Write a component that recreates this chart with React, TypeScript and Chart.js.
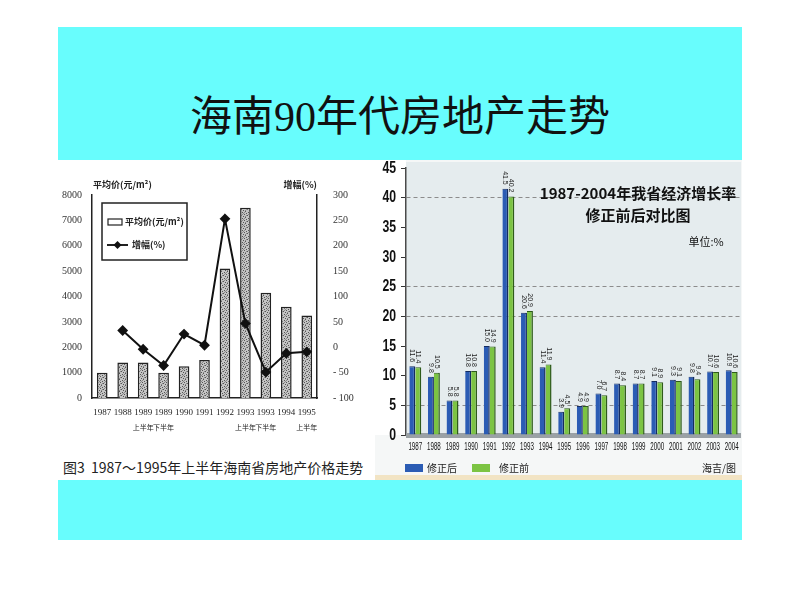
import React, { useEffect, useRef } from "react";
import { Chart, registerables } from "chart.js";
Chart.register(...registerables);

// ---------- Left chart data ----------
const priceYears = ["1987", "1988", "1989", "1989", "1990", "1991", "1992", "1993", "1993", "1994", "1995"];
const halfYearNotes = ["", "", "上半年", "下半年", "", "", "", "上半年", "下半年", "", "上半年"];
const avgPrice = [1000, 1400, 1400, 1000, 1250, 1500, 5100, 7500, 4150, 3600, 3250];
const growthPct = [null, 33, -4, -36, 26, 4, 253, 47, -49, -12, -9];
const priceTitle = "平均价(元/m²)";
const growthTitle = "增幅(%)";

// ---------- Right chart data ----------
const growthYears = ["1987", "1988", "1989", "1990", "1991", "1992", "1993", "1994", "1995", "1996", "1997", "1998", "1999", "2000", "2001", "2002", "2003", "2004"];
const revisedGrowth = [11.6, 9.8, 5.8, 10.8, 15.0, 41.5, 20.6, 11.4, 3.9, 4.9, 7.0, 8.7, 8.7, 9.1, 9.3, 9.8, 10.7, 10.9];
const originalGrowth = [11.4, 10.5, 5.8, 10.8, 14.9, 40.2, 20.9, 11.9, 4.5, 4.9, 6.7, 8.4, 8.7, 8.9, 9.1, 9.4, 10.6, 10.6];
const gridShown = [5, 20, 25, 40];

const CJK = '"Noto Sans CJK SC", "Noto Sans", sans-serif';
const SERIF = '"Liberation Serif", "Noto Sans CJK SC", serif';
const SANS = '"Liberation Sans", "DejaVu Sans", sans-serif';

function makePattern(): CanvasPattern | string {
  const pc = document.createElement("canvas");
  pc.width = 6;
  pc.height = 6;
  const c = pc.getContext("2d");
  if (!c) return "#bbb";
  c.fillStyle = "#c4c4c4";
  c.fillRect(0, 0, 6, 6);
  c.fillStyle = "#555555";
  const dots = [[0, 0], [3, 1], [1, 3], [4, 4], [2, 5], [5, 2]];
  dots.forEach(([x, y]) => c.fillRect(x, y, 1, 1));
  c.fillStyle = "#8a8a8a";
  [[2, 1], [5, 5], [0, 4], [4, 0], [1, 2]].forEach(([x, y]) => c.fillRect(x, y, 1, 1));
  return c.createPattern(pc, "repeat") || "#bbb";
}

function PriceChart() {
  const ref = useRef<HTMLCanvasElement>(null);
  useEffect(() => {
    if (!ref.current) return;
    const decor = {
      id: "priceDecor",
      afterDraw(chart: any) {
        const { ctx } = chart;
        const xs = chart.scales.x;
        ctx.save();
        ctx.fillStyle = "#222";
        ctx.textBaseline = "middle";
        ctx.font = `bold 9px ${CJK}`;
        ctx.textAlign = "left";
        ctx.fillText(priceTitle, 35, 25);
        ctx.textAlign = "right";
        ctx.fillText(growthTitle, 259, 25);
        // legend box
        ctx.strokeStyle = "#222";
        ctx.lineWidth = 1.5;
        ctx.strokeRect(44, 43, 85, 57);
        ctx.lineWidth = 1.2;
        ctx.strokeRect(50, 59, 14, 6);
        ctx.textAlign = "left";
        ctx.fillText(chart.data.datasets[1].label, 67, 62);
        ctx.lineWidth = 2;
        ctx.beginPath();
        ctx.moveTo(49, 85);
        ctx.lineTo(70, 85);
        ctx.stroke();
        ctx.fillStyle = "#111";
        ctx.beginPath();
        ctx.moveTo(59.5, 81);
        ctx.lineTo(63.5, 85);
        ctx.lineTo(59.5, 89);
        ctx.lineTo(55.5, 85);
        ctx.closePath();
        ctx.fill();
        ctx.fillStyle = "#222";
        ctx.fillText(chart.data.datasets[0].label, 74, 85);
        // half-year notes
        ctx.font = `7px ${CJK}`;
        ctx.textAlign = "center";
        halfYearNotes.forEach((n, i) => {
          if (n) ctx.fillText(n, xs.getPixelForValue(i), 267);
        });
        ctx.restore();
      },
    };
    const chart = new Chart(ref.current, {
      type: "bar",
      data: {
        labels: priceYears,
        datasets: [
          {
            type: "line",
            label: growthTitle,
            data: growthPct,
            yAxisID: "y1",
            borderColor: "#111",
            borderWidth: 2,
            pointStyle: "rectRot",
            pointRadius: 4,
            pointBackgroundColor: "#111",
            pointBorderColor: "#111",
            tension: 0,
            order: 0,
          } as any,
          {
            type: "bar",
            label: priceTitle,
            data: avgPrice,
            yAxisID: "y",
            backgroundColor: makePattern() as any,
            borderColor: "#222",
            borderWidth: 1.5,
            barPercentage: 0.52,
            categoryPercentage: 1,
            order: 1,
          } as any,
        ],
      },
      options: {
        responsive: false,
        animation: false,
        layout: { padding: { top: 35, left: 0, right: 0, bottom: 0 } },
        plugins: { legend: { display: false }, tooltip: { enabled: false } },
        scales: {
          x: {
            grid: { display: false },
            border: { display: true, color: "#222", width: 1.5 },
            ticks: { font: { family: SERIF, size: 9 }, color: "#222", padding: 1, maxRotation: 0, autoSkip: false },
            afterFit: (s: any) => { s.height = 52; },
          },
          y: {
            position: "left",
            min: 0,
            max: 8000,
            grid: { display: false },
            border: { display: true, color: "#222", width: 1.5 },
            ticks: { stepSize: 1000, font: { family: SERIF, size: 10 }, color: "#333", padding: 2, callback: (v: any) => String(v) },
            afterFit: (s: any) => { s.width = 34; },
          },
          y1: {
            position: "right",
            min: -100,
            max: 300,
            grid: { display: false },
            border: { display: true, color: "#222", width: 1.5 },
            ticks: {
              stepSize: 50,
              font: { family: SERIF, size: 10 },
              color: "#333",
              padding: 8,
              callback: (v: any) => (Number(v) < 0 ? "- " + Math.abs(Number(v)) : String(v)),
            },
            afterFit: (s: any) => { s.width = 55; },
          },
        },
      } as any,
      plugins: [decor],
    });
    return () => chart.destroy();
  }, []);
  return <canvas ref={ref} width={314} height={290} style={{ position: "absolute", left: 58, top: 160, width: 314, height: 290 }} />;
}

function GrowthChart() {
  const ref = useRef<HTMLCanvasElement>(null);
  useEffect(() => {
    if (!ref.current) return;
    const condensed = (ctx: CanvasRenderingContext2D, text: string, x: number, y: number, sx: number) => {
      ctx.save();
      ctx.translate(x, y);
      ctx.scale(sx, 1);
      ctx.fillText(text, 0, 0);
      ctx.restore();
    };
    const decor = {
      id: "growthDecor",
      beforeDraw(chart: any) {
        const { ctx, chartArea: a, width, height } = chart;
        ctx.save();
        ctx.fillStyle = "#f5f7f7";
        ctx.fillRect(0, 0, width, height);
        ctx.fillStyle = "#ffffff";
        ctx.fillRect(0, 0, a.left, a.bottom);
        ctx.fillStyle = "#e5ecee";
        ctx.fillRect(a.left, 2, a.right - a.left, a.bottom - 2);
        ctx.fillStyle = "#f2e4c4";
        ctx.fillRect(0, height - 5, width, 5);
        ctx.restore();
      },
      beforeDatasetsDraw(chart: any) {
        const { ctx, chartArea: a } = chart;
        ctx.save();
        ctx.fillStyle = "#9aa1a5";
        ctx.fillRect(a.left, a.bottom - 2, a.right - a.left, 5);
        ctx.restore();
      },
      afterDatasetsDraw(chart: any) {
        const { ctx } = chart;
        ctx.save();
        ctx.fillStyle = "#222";
        ctx.font = `7px ${SANS}`;
        ctx.textAlign = "right";
        ctx.textBaseline = "middle";
        chart.data.datasets.forEach((ds: any, di: number) => {
          const meta = chart.getDatasetMeta(di);
          meta.data.forEach((el: any, i: number) => {
            ctx.save();
            ctx.translate(el.x, el.y - 4);
            ctx.rotate(Math.PI / 2);
            ctx.fillText(Number(ds.data[i]).toFixed(1), 0, 0);
            ctx.restore();
          });
        });
        ctx.restore();
      },
      afterDraw(chart: any) {
        const { ctx, chartArea: a } = chart;
        const xs = chart.scales.x;
        const ys = chart.scales.y;
        ctx.save();
        ctx.fillStyle = "#111";
        ctx.textBaseline = "middle";
        // x labels (condensed)
        ctx.font = `10px ${SANS}`;
        ctx.textAlign = "center";
        growthYears.forEach((y, i) => condensed(ctx, y, xs.getPixelForValue(i), a.bottom + 12, 0.62));
        // y labels (condensed bold)
        ctx.font = `bold 17px ${SANS}`;
        ctx.textAlign = "right";
        ys.ticks.forEach((t: any) => condensed(ctx, String(t.value), a.left - 10, ys.getPixelForValue(t.value), 0.72));
        // title
        ctx.textAlign = "center";
        ctx.font = `bold 15px ${CJK}`;
        ctx.fillText("1987-2004年我省经济增长率", 263, 33);
        ctx.fillText("修正前后对比图", 263, 55);
        ctx.font = `11px ${CJK}`;
        ctx.fillText("单位:%", 331, 82);
        // legend
        const ds = chart.data.datasets;
        ctx.font = `10px ${CJK}`;
        ctx.textAlign = "left";
        ctx.fillStyle = ds[0].backgroundColor;
        ctx.fillRect(30, 304, 18, 8);
        ctx.fillStyle = "#222";
        ctx.fillText(ds[0].label, 52, 308);
        ctx.fillStyle = ds[1].backgroundColor;
        ctx.fillRect(97, 304, 18, 8);
        ctx.fillStyle = "#222";
        ctx.fillText(ds[1].label, 124, 308);
        ctx.textAlign = "right";
        ctx.fillText("海吉/图", 361, 308);
        ctx.restore();
      },
    };
    const chart = new Chart(ref.current, {
      type: "bar",
      data: {
        labels: growthYears,
        datasets: [
          {
            label: "修正后",
            data: revisedGrowth,
            backgroundColor: "#2b5cb4",
            borderColor: "#142c62",
            borderWidth: { top: 1, right: 1.5, left: 0, bottom: 0 },
            barPercentage: 1,
            categoryPercentage: 0.64,
          },
          {
            label: "修正前",
            data: originalGrowth,
            backgroundColor: "#7cc443",
            borderColor: "#2e5b1a",
            borderWidth: { top: 1, right: 1.5, left: 0, bottom: 0 },
            barPercentage: 1,
            categoryPercentage: 0.64,
          },
        ],
      },
      options: {
        responsive: false,
        animation: false,
        layout: { padding: { top: 8, left: 0, right: 1, bottom: 0 } },
        plugins: { legend: { display: false }, tooltip: { enabled: false } },
        scales: {
          x: {
            grid: { display: false },
            border: { display: false },
            ticks: { display: false },
            afterFit: (s: any) => { s.height = 45; },
          },
          y: {
            min: 0,
            max: 45,
            grid: {
              color: (c: any) => (c.tick && gridShown.includes(c.tick.value) ? "#8c8c8c" : "rgba(0,0,0,0)"),
              tickColor: "#333",
              tickLength: 5,
              tickBorderDash: [],
              lineWidth: 1,
            },
            border: { display: true, color: "#4a4a4a", width: 1.5, dash: [4, 3] },
            ticks: { stepSize: 5, display: false },
            afterFit: (s: any) => { s.width = 31; },
          },
        },
      } as any,
      plugins: [decor],
    });
    return () => chart.destroy();
  }, []);
  return <canvas ref={ref} width={367} height={320} style={{ position: "absolute", left: 375, top: 160, width: 367, height: 320 }} />;
}

export default function App() {
  return (
    <div style={{ position: "absolute", left: 0, top: 0, width: 800, height: 600, background: "#ffffff", overflow: "hidden" }}>
      <div style={{ position: "absolute", left: 58, top: 27, width: 684, height: 513, background: "#68fdfd" }} />
      <div style={{ position: "absolute", left: 58, top: 160, width: 317, height: 320, background: "#ffffff" }} />
      <div
        style={{
          position: "absolute",
          left: 0,
          top: 92,
          width: 800,
          height: 50,
          lineHeight: "50px",
          textAlign: "center",
          fontSize: 42,
          fontFamily: SERIF,
          color: "#111",
        }}
      >
        海南90年代房地产走势
      </div>
      <PriceChart />
      <div
        style={{
          position: "absolute",
          left: 63,
          top: 458,
          width: 320,
          height: 18,
          lineHeight: "18px",
          fontSize: 14,
          fontFamily: CJK,
          color: "#222",
          whiteSpace: "nowrap",
        }}
      >
        图3&nbsp;&nbsp;1987～1995年上半年海南省房地产价格走势
      </div>
      <GrowthChart />
    </div>
  );
}
